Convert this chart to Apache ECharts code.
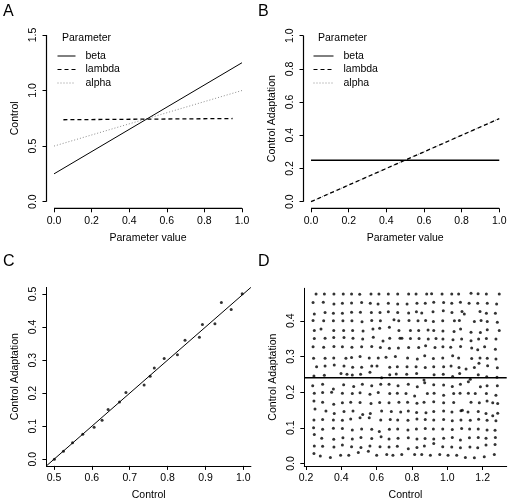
<!DOCTYPE html>
<html><head><meta charset="utf-8">
<script src="https://cdn.jsdelivr.net/npm/echarts@6/dist/echarts.min.js"></script>
<style>html,body{margin:0;padding:0;background:#fff}#c{width:510px;height:502px}</style>
</head><body><div id="c"></div>
<script>
// ---------- Panel A: Control vs parameter value ----------
const paramValues   = [0, 1];
const controlBeta   = [0.25, 1.25];
const controlAlpha  = [0.50, 1.00];
const lambdaValues  = [0.05, 0.95];
const controlLambda = [0.737, 0.748];
// ---------- Panel B: Control Adaptation vs parameter value ----------
const adaptBeta   = [0.25, 0.25];
const adaptLambda = [0.00, 0.50];
const adaptAlpha  = [0.00, 0.50];
// ---------- tick values ----------
const ticksAx = [0, 0.2, 0.4, 0.6, 0.8, 1.0];
const ticksAy = [0, 0.5, 1.0, 1.5];
const ticksBy = [0, 0.2, 0.4, 0.6, 0.8, 1.0];
const ticksCx = [0.5, 0.6, 0.7, 0.8, 0.9, 1.0];
const ticksCy = [0, 0.1, 0.2, 0.3, 0.4, 0.5];
const ticksDx = [0.2, 0.4, 0.6, 0.8, 1.0, 1.2];
const ticksDy = [0, 0.1, 0.2, 0.3, 0.4];
// ---------- Panel C ----------
const controlC = [0.501,0.525,0.549,0.576,0.606,0.627,0.643,0.673,0.690,0.738,0.754,0.765,0.791,0.826,0.846,0.884,0.892,0.925,0.942,0.968,0.997];
const adaptC   = [0.000,0.024,0.050,0.076,0.097,0.118,0.151,0.173,0.202,0.225,0.251,0.276,0.305,0.316,0.360,0.369,0.408,0.410,0.474,0.453,0.501];
const fitC = { intercept: -0.5, slope: 1.0 };
// ---------- Panel D ----------
const controlD = [
0.257,0.304,0.358,0.411,0.458,0.504,0.568,0.613,0.666,0.719,0.781,0.823,0.883,0.911,0.970,1.025,1.064,1.134,1.174,1.221,1.294,
0.240,0.298,0.358,0.406,0.458,0.515,0.564,0.608,0.666,0.719,0.772,0.828,0.875,0.923,0.979,1.025,1.074,1.123,1.172,1.226,1.279,
0.247,0.308,0.355,0.406,0.458,0.508,0.570,0.619,0.666,0.719,0.781,0.825,0.855,0.919,0.977,1.026,1.083,1.096,1.185,1.221,1.272,
0.240,0.300,0.355,0.409,0.460,0.517,0.572,0.621,0.698,0.725,0.783,0.834,0.877,0.921,0.974,1.040,1.068,1.153,1.191,1.226,1.283,
0.247,0.285,0.357,0.413,0.464,0.523,0.579,0.617,0.672,0.726,0.791,0.838,0.891,0.923,0.975,1.038,1.075,1.134,1.187,1.226,1.294,
0.247,0.308,0.357,0.415,0.466,0.521,0.581,0.636,0.674,0.732,0.743,0.791,0.840,0.892,0.936,0.975,1.032,1.081,1.134,1.177,1.221,1.275,
0.240,0.300,0.358,0.406,0.460,0.515,0.572,0.621,0.672,0.723,0.781,0.838,0.877,0.930,0.975,1.019,1.075,1.138,1.172,1.211,1.272,
0.243,0.308,0.357,0.426,0.458,0.506,0.558,0.609,0.653,0.706,0.775,0.830,0.872,0.921,0.974,1.030,1.064,1.138,1.185,1.226,1.275,
0.260,0.308,0.360,0.415,0.464,0.515,0.572,0.602,0.674,0.717,0.772,0.823,0.875,0.923,0.979,1.021,1.066,1.106,1.153,1.179,1.228,1.283,
0.245,0.304,0.398,0.432,0.462,0.509,0.562,0.628,0.674,0.711,0.770,0.826,0.868,0.925,0.977,1.030,1.070,1.130,1.175,1.223,1.281,
0.238,0.294,0.355,0.413,0.470,0.519,0.572,0.623,0.670,0.721,0.779,0.830,0.872,0.923,0.979,1.028,1.074,1.119,1.187,1.225,1.283,
0.247,0.294,0.345,0.406,0.462,0.506,0.562,0.609,0.674,0.717,0.766,0.815,0.887,0.925,0.979,1.036,1.072,1.119,1.158,1.221,1.275,
0.245,0.294,0.357,0.406,0.453,0.506,0.568,0.617,0.670,0.726,0.775,0.828,0.868,0.923,0.979,1.036,1.077,1.134,1.181,1.225,1.257,1.285,
0.251,0.313,0.360,0.415,0.466,0.521,0.564,0.628,0.683,0.736,0.779,0.826,0.879,0.923,0.979,1.026,1.085,1.117,1.175,1.219,1.257,1.285,
0.245,0.294,0.355,0.406,0.453,0.506,0.558,0.623,0.677,0.719,0.777,0.828,0.875,0.923,0.979,1.028,1.077,1.130,1.177,1.225,1.275,
0.243,0.294,0.355,0.406,0.462,0.515,0.572,0.615,0.672,0.719,0.777,0.825,0.875,0.921,0.974,1.028,1.081,1.126,1.175,1.225,1.270,
0.247,0.289,0.357,0.409,0.462,0.511,0.572,0.625,0.670,0.721,0.779,0.828,0.874,0.923,0.979,1.028,1.074,1.125,1.175,1.219,1.272,
0.247,0.294,0.358,0.406,0.458,0.511,0.562,0.619,0.670,0.717,0.779,0.828,0.870,0.923,0.974,1.025,1.074,1.128,1.172,1.219,1.270,
0.245,0.281,0.338,0.396,0.442,0.496,0.553,0.600,0.657,0.692,0.742,0.815,0.855,0.904,0.957,1.004,1.053,1.102,1.153,1.209,1.266
];
const adaptD = [
0.475,0.475,0.475,0.475,0.475,0.474,0.475,0.475,0.475,0.475,0.475,0.475,0.475,0.476,0.475,0.475,0.475,0.477,0.476,0.475,0.475,
0.451,0.452,0.447,0.449,0.450,0.451,0.449,0.447,0.449,0.447,0.447,0.449,0.449,0.452,0.451,0.449,0.452,0.449,0.449,0.449,0.447,
0.419,0.423,0.421,0.421,0.424,0.424,0.423,0.423,0.425,0.423,0.422,0.425,0.422,0.425,0.428,0.423,0.426,0.419,0.426,0.421,0.421,
0.401,0.400,0.400,0.400,0.400,0.397,0.401,0.400,0.403,0.400,0.401,0.400,0.401,0.398,0.400,0.400,0.401,0.398,0.401,0.398,0.396,
0.373,0.377,0.373,0.373,0.373,0.371,0.377,0.379,0.382,0.373,0.373,0.373,0.374,0.373,0.371,0.370,0.377,0.368,0.367,0.375,0.373,
0.350,0.351,0.353,0.353,0.351,0.349,0.354,0.343,0.351,0.351,0.351,0.350,0.350,0.349,0.350,0.349,0.347,0.349,0.344,0.349,0.350,0.349,
0.327,0.326,0.328,0.327,0.326,0.327,0.328,0.325,0.323,0.324,0.325,0.325,0.330,0.325,0.327,0.326,0.328,0.324,0.319,0.327,0.320,
0.295,0.295,0.296,0.295,0.297,0.300,0.296,0.296,0.298,0.300,0.296,0.293,0.302,0.294,0.296,0.302,0.296,0.294,0.296,0.295,0.293,
0.271,0.273,0.276,0.273,0.270,0.270,0.273,0.273,0.270,0.271,0.271,0.271,0.269,0.271,0.271,0.273,0.269,0.265,0.269,0.281,0.274,0.268,
0.245,0.247,0.252,0.250,0.248,0.250,0.256,0.240,0.249,0.251,0.250,0.252,0.234,0.249,0.250,0.244,0.252,0.236,0.249,0.243,0.242,
0.218,0.222,0.209,0.221,0.216,0.222,0.218,0.222,0.222,0.218,0.222,0.215,0.226,0.221,0.220,0.216,0.222,0.229,0.215,0.218,0.218,
0.197,0.199,0.200,0.197,0.196,0.198,0.194,0.199,0.196,0.197,0.196,0.189,0.196,0.197,0.191,0.196,0.197,0.197,0.196,0.196,0.191,
0.175,0.172,0.166,0.170,0.172,0.171,0.168,0.171,0.170,0.172,0.172,0.169,0.172,0.173,0.170,0.171,0.148,0.172,0.170,0.175,0.170,0.168,
0.153,0.147,0.140,0.146,0.147,0.137,0.140,0.147,0.146,0.144,0.147,0.143,0.142,0.146,0.147,0.144,0.149,0.144,0.146,0.140,0.134,0.141,
0.122,0.123,0.122,0.121,0.125,0.128,0.128,0.122,0.123,0.122,0.121,0.125,0.123,0.122,0.123,0.120,0.122,0.121,0.124,0.121,0.120,
0.100,0.096,0.099,0.098,0.094,0.097,0.096,0.090,0.096,0.097,0.094,0.097,0.098,0.097,0.097,0.095,0.098,0.097,0.097,0.094,0.093,
0.081,0.071,0.068,0.072,0.069,0.073,0.070,0.075,0.069,0.071,0.072,0.069,0.070,0.069,0.071,0.073,0.066,0.072,0.073,0.071,0.073,
0.049,0.048,0.046,0.052,0.047,0.045,0.049,0.047,0.046,0.048,0.041,0.045,0.049,0.056,0.047,0.046,0.044,0.046,0.044,0.052,0.053,
0.028,0.021,0.017,0.023,0.023,0.031,0.034,0.023,0.025,0.023,0.025,0.025,0.025,0.023,0.025,0.023,0.023,0.017,0.016,0.019,0.025
];
const fitD = { intercept: 0.240, slope: 0 };

// ---------- layout ----------
const FONT = 'Liberation Sans, Arial, Helvetica, sans-serif';
const FS = 10.5;
const ranges = {
  A: { x: [-0.04, 1.04], y: [-0.06, 1.56] },
  B: { x: [-0.04, 1.04], y: [-0.04, 1.04] },
  C: { x: [0.48, 1.02], y: [-0.02, 0.52] },
  D: { x: [0.1904, 1.336], y: [-0.007, 0.491] }
};
const grids = [
  { left: 46.5, top: 28.3, width: 203, height: 180 },
  { left: 303.5, top: 29, width: 203.3, height: 179.3 },
  { left: 46.4, top: 287.4, width: 204.5, height: 178.5 },
  { left: 304.3, top: 288.3, width: 202.4, height: 178.4 }
];
const zip = (a, b) => a.map((v, i) => [v, b[i]]);
const fmt = v => v.toFixed(1);

function xAx(gi, r, ticks, name, showLine) {
  return {
    type: 'value', gridIndex: gi, min: r[0], max: r[1],
    name: name, nameLocation: 'middle', nameGap: 24,
    nameTextStyle: { fontFamily: FONT, fontSize: FS, color: '#000' },
    axisLine: { show: showLine, onZero: false, lineStyle: { color: '#000', width: 1 } },
    axisTick: { show: true, customValues: ticks, length: 4, lineStyle: { color: '#000', width: 1 } },
    axisLabel: { customValues: ticks, formatter: fmt, margin: 7, fontFamily: FONT, fontSize: FS, color: '#000' },
    splitLine: { show: false }
  };
}
function yAx(gi, r, ticks, name, showLine) {
  return {
    type: 'value', gridIndex: gi, min: r[0], max: r[1],
    name: name, nameLocation: 'middle', nameGap: 26, nameRotate: 90,
    nameTextStyle: { fontFamily: FONT, fontSize: FS, color: '#000' },
    axisLine: { show: showLine, onZero: false, lineStyle: { color: '#000', width: 1 } },
    axisTick: { show: true, customValues: ticks, length: 4, lineStyle: { color: '#000', width: 1 } },
    axisLabel: { customValues: ticks, formatter: fmt, rotate: 90, margin: 8, fontFamily: FONT, fontSize: FS, color: '#000' },
    splitLine: { show: false }
  };
}
function lineSeries(gi, name, xs, ys, style) {
  return {
    type: 'line', name: name, xAxisIndex: gi, yAxisIndex: gi, data: zip(xs, ys),
    symbol: 'none', silent: true, animation: false, clip: false,
    lineStyle: style, itemStyle: { color: style.color }
  };
}
const sBeta   = { color: '#000', width: 1, type: 'solid' };
const sLambda = { color: '#000', width: 1.3, type: [4, 3] };
const sAlpha  = { color: '#8c8c8c', width: 1, type: [1, 2] };

const legendCommon = {
  orient: 'vertical', itemHeight: 10, itemGap: 2.5, padding: 0,
  data: ['beta', 'lambda', 'alpha'],
  itemStyle: { opacity: 0, color: 'rgba(0,0,0,0)', borderColor: 'rgba(0,0,0,0)', borderWidth: 0 },
  lineStyle: { width: 1 },
  textStyle: { fontFamily: FONT, fontSize: FS, color: '#000', padding: [0, 0, 0, 5] },
  selectedMode: false
};
const titleText = (t, left, top, size) => ({ text: t, left: left, top: top, padding: 0,
  textStyle: { fontFamily: FONT, fontSize: size, fontWeight: 'normal', color: '#000' } });

const option = {
  animation: false,
  backgroundColor: '#fff',
  title: [
    titleText('A', 3, 4, 16), titleText('B', 258, 4, 16),
    titleText('C', 3, 254, 16), titleText('D', 258, 254, 16),
    titleText('Parameter', 62, 33, FS), titleText('Parameter', 318, 33, FS)
  ],
  legend: [
    Object.assign({ left: 57, top: 50.5, itemWidth: 18 }, legendCommon),
    Object.assign({ left: 313, top: 50.5, itemWidth: 20 }, legendCommon)
  ],
  grid: grids,
  xAxis: [
    xAx(0, ranges.A.x, ticksAx, 'Parameter value', false),
    xAx(1, ranges.B.x, ticksAx, 'Parameter value', false),
    xAx(2, ranges.C.x, ticksCx, 'Control', true),
    xAx(3, ranges.D.x, ticksDx, 'Control', true)
  ],
  yAxis: [
    yAx(0, ranges.A.y, ticksAy, 'Control', false),
    yAx(1, ranges.B.y, ticksBy, 'Control Adaptation', false),
    yAx(2, ranges.C.y, ticksCy, 'Control Adaptation', true),
    yAx(3, ranges.D.y, ticksDy, 'Control Adaptation', true)
  ],
  series: [
    lineSeries(0, 'alpha', paramValues, controlAlpha, sAlpha),
    lineSeries(0, 'beta', paramValues, controlBeta, sBeta),
    lineSeries(0, 'lambda', lambdaValues, controlLambda, sLambda),
    lineSeries(1, 'alpha', paramValues, adaptAlpha, sAlpha),
    lineSeries(1, 'beta', paramValues, adaptBeta, Object.assign({}, sBeta, { width: 1.5 })),
    lineSeries(1, 'lambda', paramValues, adaptLambda, sLambda),
    {
      type: 'scatter', xAxisIndex: 2, yAxisIndex: 2, data: zip(controlC, adaptC),
      symbol: 'circle', symbolSize: 3, itemStyle: { color: '#000' }, silent: true
    },
    {
      type: 'line', xAxisIndex: 2, yAxisIndex: 2, symbol: 'none', silent: true,
      data: ranges.C.x.map(x => [x, fitC.intercept + fitC.slope * x]),
      lineStyle: { color: '#000', width: 1 }
    },
    {
      type: 'scatter', xAxisIndex: 3, yAxisIndex: 3, data: zip(controlD, adaptD),
      symbol: 'circle', symbolSize: 3, itemStyle: { color: '#000' }, silent: true
    },
    {
      type: 'line', xAxisIndex: 3, yAxisIndex: 3, symbol: 'none', silent: true,
      data: ranges.D.x.map(x => [x, fitD.intercept + fitD.slope * x]),
      lineStyle: { color: '#000', width: 1.5 }
    }
  ]
};
const chart = echarts.init(document.getElementById('c'), null, { renderer: 'canvas' });
chart.setOption(option);

// R-style detached axis lines (from first to last tick), positioned through the chart's own scales
function rAxisGraphics(gi, r, xt, yt) {
  const p = v => chart.convertToPixel({ gridIndex: gi }, v);
  const bx0 = p([xt[0], r.y[0]]), bx1 = p([xt[xt.length - 1], r.y[0]]);
  const ly0 = p([r.x[0], yt[0]]), ly1 = p([r.x[0], yt[yt.length - 1]]);
  const style = { stroke: '#000', lineWidth: 1.2 };
  return [
    { type: 'line', z: 100, silent: true, shape: { x1: bx0[0], y1: bx0[1], x2: bx1[0], y2: bx1[1] }, style },
    { type: 'line', z: 100, silent: true, shape: { x1: ly0[0], y1: ly0[1], x2: ly1[0], y2: ly1[1] }, style }
  ];
}
chart.setOption({
  graphic: { elements: [].concat(
    rAxisGraphics(0, ranges.A, ticksAx, ticksAy),
    rAxisGraphics(1, ranges.B, ticksAx, ticksBy)
  ) }
});
</script>
</body></html>
